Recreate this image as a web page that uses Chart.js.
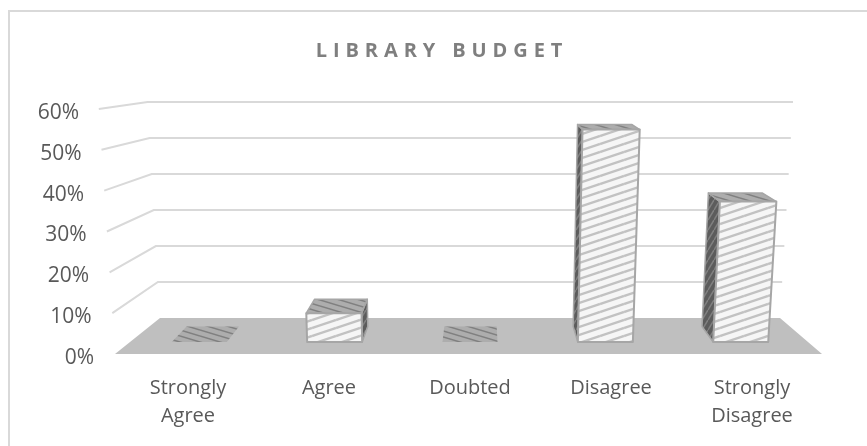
<!DOCTYPE html>
<html>
<head>
<meta charset="utf-8">
<style>
  html, body { margin: 0; padding: 0; background: #fff; }
  #wrap { position: relative; width: 867px; height: 446px; }
</style>
<script src="https://cdn.jsdelivr.net/npm/chart.js@4"></script>
</head>
<body>
<div id="wrap"><canvas id="budgetChart"></canvas></div>
<script>
// survey answers
var categories = [['Strongly', 'Agree'], 'Agree', 'Doubted', 'Disagree', ['Strongly', 'Disagree']];
var budgetValues = [0, 8, 0, 59, 39];
var tickValues = [0, 10, 20, 30, 40, 50, 60];

// striped fills, same look as the office 3d chart
function stripes(w, h, back, line, lw, down) {
    var c = document.createElement('canvas');
    c.width = w;
    c.height = h;
    var g = c.getContext('2d');
    g.fillStyle = back;
    g.fillRect(0, 0, w, h);
    g.strokeStyle = line;
    g.lineWidth = lw;
    for (var i = -1; i <= 1; i++) {
        g.beginPath();
        if (down) {
            g.moveTo(0, i * h);
            g.lineTo(w, i * h + h);
        } else {
            g.moveTo(0, i * h + h);
            g.lineTo(w, i * h);
        }
        g.stroke();
    }
    return document.createElement('canvas').getContext('2d').createPattern(c, 'repeat');
}

var frontFill = stripes(24, 8, '#f6f6f6', '#c2c2c2', 2.4, false);
var topFill = stripes(20, 6, '#adadad', '#808080', 1.5, true);
var sideFill = stripes(6, 10, '#5c5c5c', '#808080', 1.5, false);

// perspective settings
var leanK = 0.00019, leanCenter = 463;
var depthX = 0.048, vanishX = 480, depthY = 0.049, vanishY = 26;
var barPlaneX = 470, barPlaneShrink = 0.04;

function lean(x, baseY, y) {
    return x + (x - leanCenter) * leanK * (baseY - y);
}
function back(p) {
    return [p[0] + (vanishX - p[0]) * depthX, p[1] - (p[1] - vanishY) * depthY];
}
function poly(ctx, pts, fill, stroke, lw) {
    ctx.beginPath();
    pts.forEach(function (p, i) {
        if (i === 0) ctx.moveTo(p[0], p[1]); else ctx.lineTo(p[0], p[1]);
    });
    ctx.closePath();
    if (fill) {
        ctx.fillStyle = fill;
        ctx.fill();
    }
    if (stroke) {
        ctx.strokeStyle = stroke;
        ctx.lineWidth = lw;
        ctx.lineJoin = 'round';
        ctx.stroke();
    }
}

var threeD = {
    id: 'threeD',
    beforeDraw: function (chart) {
        var ctx = chart.ctx;
        // outer frame, right and bottom edges are cut off in the source
        ctx.save();
        ctx.strokeStyle = '#d9d9d9';
        ctx.lineWidth = 2;
        ctx.beginPath();
        ctx.moveTo(9, 446);
        ctx.lineTo(9, 11);
        ctx.lineTo(867, 11);
        ctx.stroke();
        ctx.restore();
        // letter spaced title, moved back to the middle of the picture
        var t = chart.titleBlock;
        if (!t._spaced) {
            var d = t.draw;
            t.draw = function () {
                ctx.save();
                ctx.translate(-28, 0);
                ctx.letterSpacing = '5.9px';
                d.call(t);
                ctx.letterSpacing = '0px';
                ctx.restore();
            };
            t._spaced = true;
        }
    },
    beforeDatasetsDraw: function (chart) {
        var ctx = chart.ctx, yb = chart.scales.yBars, ya = chart.scales.y;
        var zero = yb.getPixelForValue(0);
        var frontY = ya.getPixelForValue(0) - 4, backY = zero - 24;
        var fl = 115, fr = 822, bl = 160, br = 780;
        ctx.save();
        // back wall and side wall grid
        tickValues.forEach(function (v) {
            if (v === 0) return;
            var fy = ya.getPixelForValue(v) - 4, by = yb.getPixelForValue(v) - 24;
            ctx.strokeStyle = '#d9d9d9';
            ctx.lineWidth = 2;
            ctx.beginPath();
            ctx.moveTo(lean(fl, frontY, fy), fy);
            ctx.lineTo(lean(bl, backY, by), by);
            ctx.lineTo(lean(br, backY, by), by);
            ctx.stroke();
        });
        poly(ctx, [[fl, frontY], [fr, frontY], [br, backY], [bl, backY]], '#bfbfbf');

        // y tick labels follow the slanted wall
        ctx.fillStyle = '#595959';
        ctx.font = '21px "Open Sans", sans-serif';
        ctx.textAlign = 'right';
        ctx.textBaseline = 'middle';
        tickValues.forEach(function (v) {
            ctx.fillText(v + '%', 94 - (v / 10) * 2.5, ya.getPixelForValue(v));
        });

        // bars
        var meta = chart.getDatasetMeta(0);
        meta.data.forEach(function (bar) {
            var half = bar.width / 2, base = bar.base, top = bar.y;
            var cx = bar.x + (barPlaneX - bar.x) * barPlaneShrink;
            var bottomL = [cx - half, base], bottomR = [cx + half, base];
            var topL = [lean(cx - half, base, top), top], topR = [lean(cx + half, base, top), top];
            if (base - top > 0.5) {
                if (bottomR[0] < vanishX) {
                    poly(ctx, [bottomR, back(bottomR), back(topR), topR], sideFill, '#a6a6a6', 1.5);
                } else {
                    poly(ctx, [bottomL, back(bottomL), back(topL), topL], sideFill, '#a6a6a6', 1.5);
                }
                poly(ctx, [topL, topR, back(topR), back(topL)], topFill, '#a6a6a6', 1.5);
                poly(ctx, [bottomL, bottomR, topR, topL], frontFill, '#a6a6a6', 2);
            } else {
                poly(ctx, [topL, topR, back(topR), back(topL)], topFill);
            }
        });
        ctx.restore();
    }
};

var ctx = document.getElementById('budgetChart').getContext('2d');
var budgetChart = new Chart(ctx, {
    type: 'bar',
    data: {
        labels: categories,
        datasets: [{
            label: 'Library Budget',
            data: budgetValues,
            xAxisID: 'x',
            yAxisID: 'yBars',
            backgroundColor: 'rgba(0,0,0,0)',
            barThickness: 55
        }]
    },
    plugins: [threeD],
    options: {
        responsive: true,
        maintainAspectRatio: false,
        animation: false,
        layout: { padding: { left: 117.5, right: 44.5 } },
        plugins: {
            legend: { display: false },
            tooltip: { enabled: false },
            title: {
                display: true,
                text: 'LIBRARY BUDGET',
                color: '#7f7f7f',
                font: { family: '"Open Sans", sans-serif', size: 20, weight: 'bold', lineHeight: 1.2 },
                padding: { top: 39, bottom: 50 }
            }
        },
        scales: {
            x: {
                grid: { display: false },
                border: { display: false },
                ticks: {
                    color: '#595959',
                    padding: 8,
                    maxRotation: 0,
                    autoSkip: false,
                    font: { family: '"Open Sans", sans-serif', size: 20, lineHeight: 1.4 }
                },
                afterFit: function (scale) { scale.height = 88; }
            },
            y: {
                display: false,
                min: 0,
                max: 60
            },
            // front face of the bars sits on its own plane
            yBars: {
                display: false,
                min: -4.44,
                max: 63.61
            }
        }
    }
});
</script>
</body>
</html>
